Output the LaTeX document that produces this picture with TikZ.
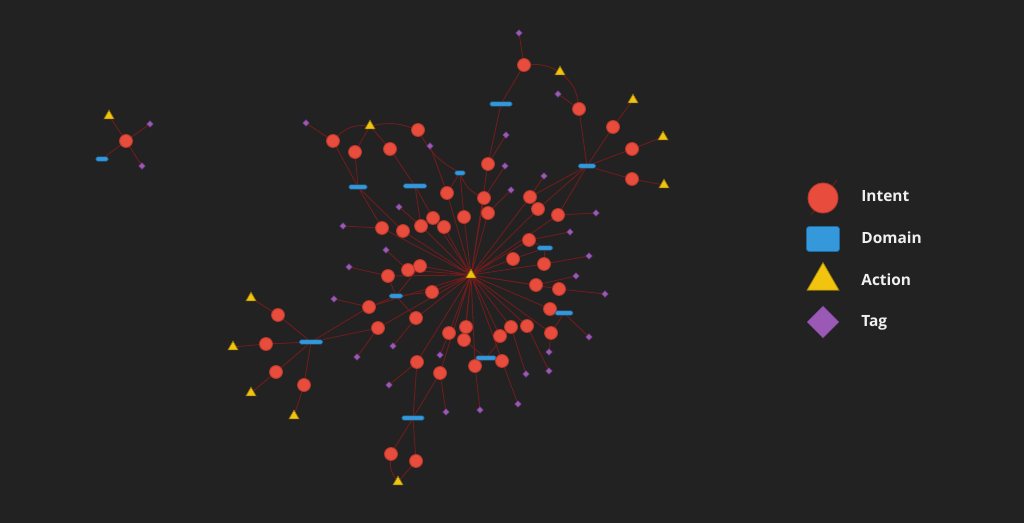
\documentclass[tikz,border=0pt]{standalone}
\usepackage{fontspec}
\setmainfont{Open Sans}
\usetikzlibrary{shapes.geometric}
\pgfdeclarelayer{back}
\pgfdeclarelayer{edges}
\pgfsetlayers{back,edges,main}
\definecolor{bgc}{HTML}{222222}
\definecolor{linkc}{RGB}{112,28,28}
\definecolor{intentc}{HTML}{E74C3C}
\definecolor{intentb}{HTML}{B8392C}
\definecolor{domainc}{HTML}{3498DB}
\definecolor{domainb}{HTML}{1F6AA0}
\definecolor{actionc}{HTML}{F1C40F}
\definecolor{actionb}{HTML}{9A7D0A}
\definecolor{tagc}{HTML}{9B59B6}
\definecolor{tagb}{HTML}{74408A}
\tikzset{
  intentnode/.style={circle,fill=intentc,draw=intentb,line width=0.5pt,minimum size=0.26cm,inner sep=0pt},
  domainbar/.style={rectangle,rounded corners=0.8pt,fill=domainc,draw=domainb,line width=0.4pt,minimum width=0.42cm,minimum height=0.085cm,inner sep=0pt},
  actiontri/.style={regular polygon,regular polygon sides=3,fill=actionc,draw=actionb,line width=0.4pt,minimum size=0.23cm,inner sep=0pt},
  tagdia/.style={diamond,fill=tagc,draw=tagb,line width=0.3pt,minimum width=0.13cm,minimum height=0.13cm,inner sep=0pt},
  link/.style={draw=linkc,line width=0.5pt},
  lbl/.style={text=white!94!black,font=\fontsize{8.8}{10}\selectfont\bfseries,anchor=base west,inner sep=0pt}
}
\begin{document}
\begin{tikzpicture}[x=0.02cm,y=-0.02cm]
\useasboundingbox (0,0) rectangle (1024,523);
\begin{pgfonlayer}{back}
\fill[bgc] (0,0) rectangle (1024,523);
\end{pgfonlayer}

\node[actiontri] (hub) at (471,275) {};

\node[intentnode] (i0) at (126,141) {};
\node[actiontri] (a0) at (109,116) {};
\node[tagdia] (t0a) at (150,124) {};
\node[domainbar,minimum width=0.24cm] (d0) at (102,159) {};
\node[tagdia] (t0b) at (142,166) {};

\node[tagdia] (t1) at (519,33) {};
\node[intentnode] (i1) at (524,65) {};
\node[actiontri] (a1) at (560,72) {};
\node[tagdia] (t2) at (558,94) {};
\node[intentnode] (i2) at (579,109) {};
\node[domainbar,minimum width=0.44cm] (d1) at (501,104) {};
\node[actiontri] (a2) at (633,100) {};
\node[intentnode] (i3) at (613,127) {};
\node[actiontri] (a3) at (663,137) {};
\node[intentnode] (i4) at (632,149) {};
\node[domainbar,minimum width=0.34cm] (d2) at (587,166) {};
\node[intentnode] (i5) at (632,179) {};
\node[actiontri] (a4) at (664,185) {};

\node[tagdia] (t3) at (306,123) {};
\node[intentnode] (i6) at (333,141) {};
\node[actiontri] (a5) at (370,126) {};
\node[intentnode] (i7) at (355,152) {};
\node[intentnode] (i8) at (390,149) {};
\node[intentnode] (i9) at (418,130) {};
\node[tagdia] (t4) at (430,146) {};
\node[domainbar,minimum width=0.36cm] (d3) at (358,187) {};
\node[domainbar,minimum width=0.46cm] (d4) at (415,186) {};
\node[domainbar,minimum width=0.2cm] (d5) at (460,173) {};

\node[intentnode] (i10) at (488,164) {};
\node[tagdia] (t5) at (506,135) {};
\node[tagdia] (t6) at (505,166) {};
\node[intentnode] (i11) at (447,193) {};
\node[intentnode] (i12) at (484,198) {};
\node[tagdia] (t7) at (544,176) {};
\node[tagdia] (t8) at (511,190) {};
\node[intentnode] (i13) at (530,197) {};
\node[intentnode] (i14) at (538,209) {};
\node[intentnode] (i15) at (558,215) {};
\node[tagdia] (t9) at (596,213) {};
\node[intentnode] (i16) at (488,213) {};
\node[intentnode] (i17) at (464,217) {};
\node[tagdia] (t10) at (399,207) {};
\node[intentnode] (i18) at (433,218) {};
\node[intentnode] (i19) at (421,226) {};
\node[intentnode] (i20) at (444,227) {};
\node[intentnode] (i21) at (403,231) {};
\node[intentnode] (i22) at (382,228) {};
\node[tagdia] (t11) at (343,226) {};
\node[tagdia] (t12) at (570,232) {};
\node[intentnode] (i23) at (529,240) {};
\node[domainbar,minimum width=0.3cm] (d6) at (545,248) {};
\node[tagdia] (t13) at (589,256) {};
\node[intentnode] (i24) at (513,259) {};
\node[intentnode] (i25) at (544,264) {};
\node[tagdia] (t14) at (386,250) {};
\node[tagdia] (t15) at (349,267) {};

\node[intentnode] (i26) at (420,266) {};
\node[intentnode] (i27) at (408,270) {};
\node[intentnode] (i28) at (388,276) {};
\node[domainbar,minimum width=0.26cm] (d7) at (396,296) {};
\node[intentnode] (i29) at (432,292) {};
\node[tagdia] (t16) at (334,299) {};
\node[intentnode] (i30) at (369,307) {};
\node[intentnode] (i31) at (416,318) {};
\node[intentnode] (i32) at (378,328) {};
\node[tagdia] (t17) at (393,346) {};
\node[tagdia] (t18) at (357,357) {};
\node[tagdia] (t19) at (576,276) {};
\node[intentnode] (i33) at (536,285) {};
\node[intentnode] (i34) at (559,289) {};
\node[tagdia] (t20) at (605,294) {};
\node[intentnode] (i35) at (550,309) {};
\node[domainbar,minimum width=0.35cm] (d8) at (564,313) {};
\node[intentnode] (i36) at (551,333) {};
\node[tagdia] (t21) at (589,337) {};
\node[tagdia] (t22) at (549,352) {};
\node[intentnode] (i37) at (527,326) {};
\node[intentnode] (i38) at (511,327) {};
\node[intentnode] (i39) at (500,336) {};
\node[intentnode] (i40) at (466,327) {};
\node[intentnode] (i41) at (449,333) {};
\node[intentnode] (i42) at (464,340) {};
\node[tagdia] (t23) at (440,355) {};
\node[domainbar,minimum width=0.4cm] (d9) at (486,358) {};
\node[intentnode] (i43) at (475,366) {};
\node[intentnode] (i44) at (502,361) {};
\node[intentnode] (i45) at (417,362) {};
\node[intentnode] (i46) at (440,373) {};
\node[tagdia] (t24) at (389,385) {};
\node[tagdia] (t25) at (446,412) {};
\node[tagdia] (t26) at (480,410) {};
\node[tagdia] (t27) at (526,374) {};
\node[tagdia] (t28) at (518,404) {};
\node[tagdia] (t29) at (549,371) {};

\node[actiontri] (a6) at (251,298) {};
\node[intentnode] (i47) at (278,315) {};
\node[actiontri] (a7) at (233,347) {};
\node[intentnode] (i48) at (266,344) {};
\node[domainbar,minimum width=0.46cm] (d10) at (311,342) {};
\node[intentnode] (i49) at (276,372) {};
\node[actiontri] (a8) at (251,393) {};
\node[intentnode] (i50) at (304,385) {};
\node[actiontri] (a9) at (294,416) {};

\node[domainbar,minimum width=0.44cm] (d11) at (413,418) {};
\node[intentnode] (i51) at (391,454) {};
\node[intentnode] (i52) at (416,461) {};
\node[actiontri] (a10) at (398,482) {};

\begin{pgfonlayer}{edges}
\draw[link] (i0)--(a0) (i0)--(t0a) (i0)--(d0) (i0)--(t0b);
\draw[link] (t1)--(i1) (i1)--(d1) (d1)--(i10) (t5)--(i10) (t6)--(i12) (t2)--(i2) (i2)--(d2) (d2)--(i3) (i3)--(a2) (d2)--(i4) (i4)--(a3) (d2)--(i5) (i5)--(a4) (d2)--(i13) (d2)--(i14) (d2)--(i15) (t7)--(i13) (t8)--(i16) (t9)--(i15);
\draw[link] (i1) to[bend left=15] (a1) (a1) to[bend left=20] (i2);
\draw[link] (t3)--(i6) (a5)--(i7) (a5)--(i8) (i6)--(d3) (i7)--(d3) (i8)--(d4) (t4)--(i11) (d5)--(i11) (d5)--(i17) (d3)--(i22) (d3)--(i21) (d4)--(i18) (d4)--(i19) (t10)--(i19) (t11)--(i22) (t12)--(i23) (i23)--(d6) (i24)--(d6) (i25)--(d6) (t13)--(i25);
\draw[link] (i6) to[bend left=25] (a5) (a5) to[bend left=15] (i9) (i9) to[bend right=15] (d5) (d5) to[bend right=20] (i12);
\draw[link] (t14)--(i27) (t15)--(i28) (i28)--(d7) (i26)--(d7) (i29)--(d7) (d7)--(i31) (i30)--(d7) (t16)--(i30) (d10)--(i30) (d10)--(i32) (i31)--(t17) (i32)--(t18) (t19)--(i33) (t20)--(i34) (d8)--(i35) (d8)--(i36) (d8)--(t21) (i36)--(t22) (i37)--(t29) (i38)--(t27) (i38)--(d9) (i42)--(d9) (d9)--(i43) (d9)--(i44) (i43)--(t26) (i44)--(t28) (i41)--(t23) (i45)--(t24) (i45)--(d11) (i46)--(d11) (i46)--(t25);
\draw[link] (a6)--(i47) (i47)--(d10) (a7)--(i48) (i48)--(d10) (a8)--(i49) (i49)--(d10) (a9)--(i50) (i50)--(d10) (d11)--(i51) (d11)--(i52) (i52)--(a10);
\draw[link] (i51) to[bend right=20] (a10);
\draw[link] (hub)--(i10) (hub)--(i11) (hub)--(i12) (hub)--(i13) (hub)--(i14) (hub)--(i15) (hub)--(i16) (hub)--(i17) (hub)--(i18) (hub)--(i19) (hub)--(i20) (hub)--(i21) (hub)--(i22) (hub)--(i23) (hub)--(i24) (hub)--(i25) (hub)--(i26) (hub)--(i27) (hub)--(i28) (hub)--(i29) (hub)--(i30) (hub)--(i31) (hub)--(i32) (hub)--(i33) (hub)--(i34) (hub)--(i35) (hub)--(i36) (hub)--(i37) (hub)--(i38) (hub)--(i39) (hub)--(i40) (hub)--(i41) (hub)--(i42) (hub)--(i43) (hub)--(i44) (hub)--(i45) (hub)--(i46);
\end{pgfonlayer}

\node[intentnode,minimum size=0.6cm] (lgi) at (823,198) {};
\node[domainbar,rounded corners=1.5pt,minimum width=0.66cm,minimum height=0.5cm] (lgd) at (823,239) {};
\node[actiontri,minimum size=0.74cm] (lga) at (823,281) {};
\node[tagdia,minimum width=0.64cm,minimum height=0.64cm] (lgt) at (823,322) {};
\begin{pgfonlayer}{edges}
\draw[link] ([shift={(14,-18)}]lgi.center) -- ([shift={(-12,17)}]lgi.center);
\end{pgfonlayer}
\node[lbl] (lbi) at (861,202) {Intent};
\node[lbl] (lbd) at (861,244) {Domain};
\node[lbl] (lba) at (861,286) {Action};
\node[lbl] (lbt) at (861,327) {Tag};
\end{tikzpicture}
\end{document}
